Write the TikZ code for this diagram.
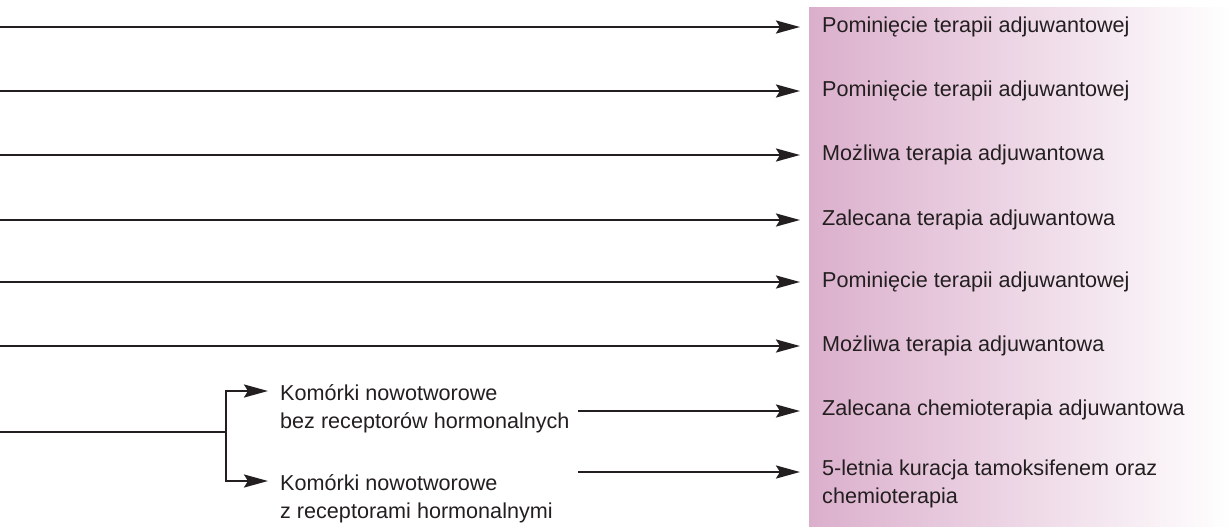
\documentclass[tikz,border=0pt]{standalone}
\usepackage{fontspec}
\setmainfont{Liberation Sans}
\usetikzlibrary{arrows.meta}
\definecolor{inkc}{HTML}{231F20}
\definecolor{pinkl}{HTML}{DBAFCC}
\begin{document}
\begin{tikzpicture}[x=1pt,y=-1pt,
  lbl/.style={inner sep=0pt, anchor=base west, text=inkc, font=\fontsize{21.6}{28}\selectfont, align=left},
  arr/.style={draw=inkc, line width=2.4pt, -{Stealth[length=24pt,width=13pt,inset=4pt]}},
  ln/.style={draw=inkc, line width=2.4pt}]
\useasboundingbox (0,0) rectangle (1231,528);
\shade[left color=pinkl, right color=white] (809,7) rectangle (1231,526);
% right texts
\node[lbl] (r1) at (822,32) {Pominięcie terapii adjuwantowej};
\node[lbl] (r2) at (822,96) {Pominięcie terapii adjuwantowej};
\node[lbl] (r3) at (822,160) {Możliwa terapia adjuwantowa};
\node[lbl] (r4) at (822,225) {Zalecana terapia adjuwantowa};
\node[lbl] (r5) at (822,287) {Pominięcie terapii adjuwantowej};
\node[lbl] (r6) at (822,351) {Możliwa terapia adjuwantowa};
\node[lbl] (r7) at (822,415) {Zalecana chemioterapia adjuwantowa};
\node[lbl] (r8) at (822,475) {5-letnia kuracja tamoksifenem oraz};
\node[lbl] (r8b) at (822,503) {chemioterapia};
% middle texts
\node[lbl] (k1) at (280,400) {Komórki nowotworowe};
\node[lbl] (k1b) at (280,428) {bez receptorów hormonalnych};
\node[lbl] (k2) at (280,490) {Komórki nowotworowe};
\node[lbl] (k2b) at (280,518) {z receptorami hormonalnymi};
% connectors
\foreach \i/\y in {1/27,2/91,3/155,4/220,5/282,6/346}{
  \coordinate (s\i) at (0,\y);
  \coordinate (e\i) at (800,\y);
  \draw[arr] (s\i) -- (e\i);
}
\coordinate (b0) at (0,432);
\coordinate (bj) at (226,432);
\coordinate (bt) at (226,391);
\coordinate (bb) at (226,481);
\coordinate (bte) at (268,391);
\coordinate (bbe) at (268,481);
\draw[ln] (b0) -- (bj);
\draw[arr] (bj) -- (bt) -- (bte);
\draw[arr] (bj) -- (bb) -- (bbe);
\coordinate (m7) at (578,411);
\coordinate (e7) at (800,411);
\coordinate (m8) at (578,472);
\coordinate (e8) at (800,472);
\draw[arr] (m7) -- (e7);
\draw[arr] (m8) -- (e8);
\end{tikzpicture}
\end{document}
